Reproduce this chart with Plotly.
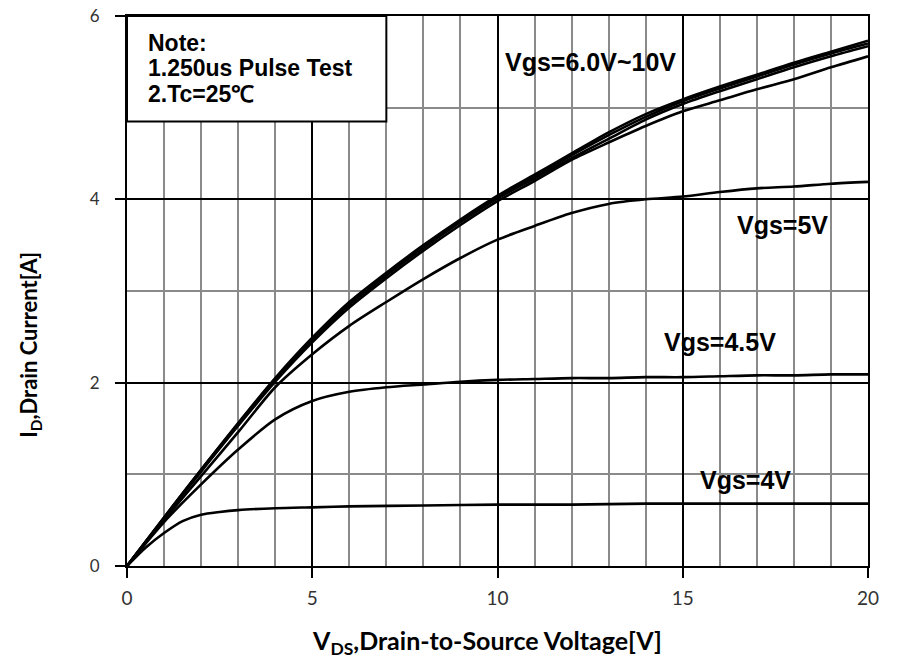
import plotly.graph_objects as go

# ---- data ----
vds = [0, 1, 2, 3, 4, 5, 6, 7, 8, 9, 10, 11, 12, 13, 14, 15, 16, 17, 18, 19, 20]
id_10v = [0, 0.53, 1.05, 1.56, 2.05, 2.49, 2.88, 3.20, 3.50, 3.78, 4.04, 4.27, 4.50, 4.73, 4.93, 5.09, 5.23, 5.36, 5.49, 5.61, 5.73]
id_8v = [0, 0.53, 1.05, 1.55, 2.04, 2.48, 2.87, 3.19, 3.49, 3.77, 4.03, 4.25, 4.48, 4.70, 4.90, 5.07, 5.21, 5.34, 5.47, 5.59, 5.70]
id_7v = [0, 0.52, 1.04, 1.54, 2.03, 2.46, 2.85, 3.17, 3.47, 3.75, 4.01, 4.23, 4.45, 4.66, 4.87, 5.04, 5.18, 5.31, 5.44, 5.56, 5.67]
id_6v = [0, 0.52, 1.03, 1.53, 2.01, 2.44, 2.82, 3.14, 3.44, 3.72, 3.98, 4.20, 4.43, 4.62, 4.80, 4.96, 5.08, 5.20, 5.31, 5.44, 5.56]
id_5v = [0, 0.50, 0.98, 1.46, 1.95, 2.31, 2.62, 2.88, 3.13, 3.36, 3.56, 3.71, 3.85, 3.95, 4.00, 4.03, 4.08, 4.12, 4.14, 4.17, 4.19]
id_45v = [0, 0.48, 0.89, 1.27, 1.60, 1.80, 1.90, 1.95, 1.98, 2.01, 2.03, 2.04, 2.05, 2.05, 2.06, 2.06, 2.07, 2.08, 2.08, 2.09, 2.09]
vds_4v = [0, 0.5, 1, 1.5, 2, 2.5, 3, 4, 5, 6, 8, 10, 12, 14, 16, 18, 20]
id_4v = [0, 0.20, 0.36, 0.49, 0.56, 0.59, 0.61, 0.63, 0.64, 0.65, 0.66, 0.67, 0.67, 0.68, 0.68, 0.68, 0.68]

labels = ["Vgs=6.0V~10V", "Vgs=5V", "Vgs=4.5V", "Vgs=4V"]
label_x = [12.52, 17.7, 16.0, 16.7]
label_y = [5.50, 3.72, 2.44, 0.94]
note_lines = ["Note:", "1.250us Pulse Test", "2.Tc=25℃"]
note_y = [5.71, 5.43, 5.15]

fig = go.Figure()
for ys in [id_6v, id_7v, id_8v, id_10v, id_5v, id_45v]:
    fig.add_trace(go.Scatter(x=vds, y=ys, mode="lines",
                             line=dict(color="black", width=2.6, shape="spline", smoothing=0.8),
                             showlegend=False, hoverinfo="skip"))
fig.add_trace(go.Scatter(x=vds_4v, y=id_4v, mode="lines",
                         line=dict(color="black", width=2.6, shape="spline", smoothing=0.8),
                         showlegend=False, hoverinfo="skip"))

for t, x, y in zip(labels, label_x, label_y):
    fig.add_annotation(x=x, y=y, text=t, showarrow=False,
                       font=dict(family="Liberation Sans", size=25, color="black", weight="bold"))

# note box
fig.add_shape(type="rect", x0=0, x1=7, y0=4.85, y1=6, xref="x", yref="y",
              fillcolor="white", line=dict(color="black", width=2), layer="above")
for t, y in zip(note_lines, note_y):
    fig.add_annotation(x=0.5, y=y, xref="x", yref="y", xanchor="left", yanchor="middle",
                       text=t, showarrow=False,
                       font=dict(family="Liberation Sans", size=23, color="black", weight="bold"))

# axis titles (placed off-centre, as in the reference)
fig.add_annotation(xref="paper", yref="paper", x=0.486, y=-0.138, xanchor="center", yanchor="middle",
                   text="V<sub>DS</sub>,Drain-to-Source Voltage[V]", showarrow=False,
                   font=dict(family="Lato", size=25, color="black", weight="bold"))
fig.add_annotation(xref="paper", yref="paper", x=-0.131, y=0.402, xanchor="center", yanchor="middle",
                   text="I<sub>D</sub>,Drain Current[A]", showarrow=False, textangle=-90,
                   font=dict(family="Lato", size=22, color="black", weight="bold"))

axis_common = dict(showline=True, linecolor="black", linewidth=2, mirror=True,
                   ticks="outside", ticklen=10, tickwidth=2, tickcolor="black",
                   showgrid=True, gridcolor="black", gridwidth=2, zeroline=False,
                   ticklabeloverflow="allow")

fig.update_xaxes(range=[0, 20], dtick=5, tick0=0,
                 minor=dict(dtick=1, showgrid=True, gridcolor="#8a8a8a", gridwidth=1.5, ticks=""),
                 ticklabelstandoff=4,
                 tickfont=dict(family="Lato", size=19, color="#333333"),
                 **axis_common)
fig.update_yaxes(range=[0, 6], dtick=2, tick0=0,
                 minor=dict(dtick=1, showgrid=True, gridcolor="#8a8a8a", gridwidth=1.5, ticks=""),
                 ticklabelstandoff=12,
                 tickfont=dict(family="Lato", size=17, color="#333333"),
                 **axis_common)

# page body adds an 8px offset, so margins are reduced to compensate
fig.update_layout(width=904, height=656, margin=dict(l=119, r=44, t=8, b=98, autoexpand=False),
                  plot_bgcolor="white", paper_bgcolor="white")
fig.write_html("out.html")
